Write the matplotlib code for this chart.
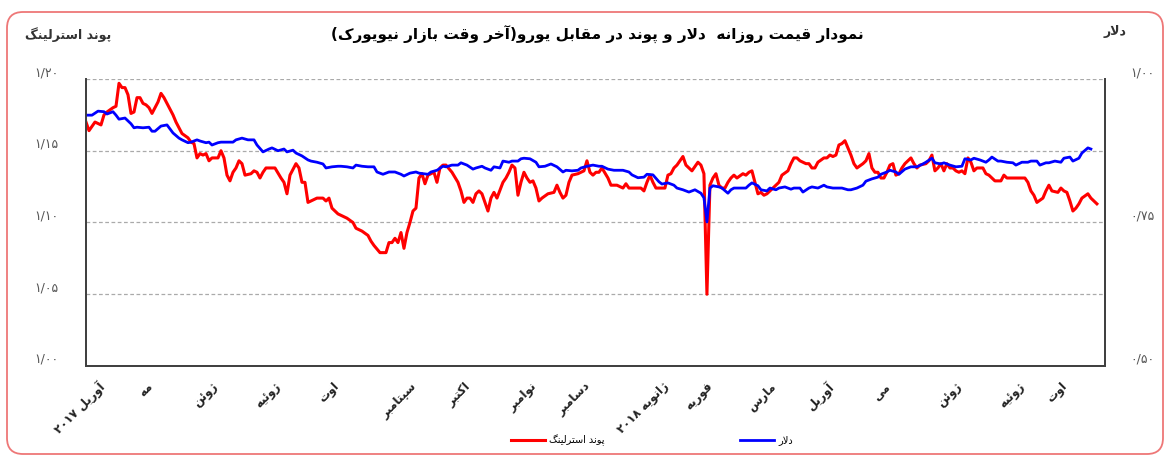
import matplotlib
matplotlib.use('Agg')
import matplotlib.pyplot as plt
from matplotlib.patches import FancyBboxPatch
from matplotlib.transforms import IdentityTransform

# ---- data (trading-day index) ----
pound_day = [0, 1, 3, 5, 6, 7, 9, 10, 11, 12, 13, 14, 15, 16, 17, 18, 19, 20, 21, 22, 24, 25, 26, 27, 29, 30,
             31, 32, 34, 35, 36, 37, 38, 39, 40, 41, 42, 44, 45, 46, 47, 48, 49, 50, 51, 52, 53, 55, 56, 57, 58,
             59, 60, 61, 63, 65, 66, 67, 68, 70, 71, 72, 73, 74, 75, 77, 79, 80, 81, 82, 84, 85, 87, 89, 90, 92,
             94, 95, 96, 98, 100, 101, 102, 103, 104, 105, 106, 107, 108, 109, 110, 111, 112, 113, 114, 116, 117,
             118, 119, 120, 122, 124, 125, 126, 127, 128, 129, 130, 131, 132, 134, 135, 136, 137, 139, 140, 141,
             142, 143, 144, 145, 146, 147, 148, 149, 150, 151, 152, 154, 156, 157, 158, 159, 160, 161, 162, 164,
             165, 166, 167, 168, 169, 170, 171, 172, 174, 175, 177, 179, 180, 181, 183, 185, 186, 187, 188, 189,
             190, 192, 193, 194, 195, 196, 197, 199, 200, 201, 202, 204, 205, 206, 207, 208, 209, 210, 211, 212,
             213, 214, 215, 216, 217, 219, 220, 221, 222, 223, 224, 225, 226, 227, 229, 230, 231, 232, 234, 235,
             236, 237, 238, 240, 241, 242, 243, 244, 246, 247, 248, 249, 250, 251, 252, 253, 254, 255, 256, 257,
             259, 260, 261, 262, 263, 264, 265, 266, 267, 268, 269, 270, 271, 272, 273, 274, 275, 276, 277, 278,
             280, 281, 282, 283, 284, 285, 286, 287, 288, 289, 290, 291, 292, 293, 294, 295, 296, 297, 299, 300,
             301, 303, 305, 306, 307, 309, 310, 311, 313, 314, 315, 316, 317, 319, 320, 321, 322, 324, 325, 326,
             327, 328, 329, 330, 331, 332, 334, 335, 337]
pound = [1.170, 1.164, 1.170, 1.168, 1.175, 1.177, 1.180, 1.181, 1.197, 1.194, 1.194, 1.189, 1.176, 1.177, 1.187,
         1.187, 1.183, 1.182, 1.180, 1.176, 1.184, 1.190, 1.187, 1.183, 1.175, 1.170, 1.166, 1.162, 1.159, 1.156,
         1.155, 1.145, 1.148, 1.147, 1.148, 1.143, 1.145, 1.145, 1.150, 1.145, 1.133, 1.129, 1.135, 1.138, 1.143,
         1.141, 1.133, 1.134, 1.136, 1.135, 1.131, 1.135, 1.138, 1.138, 1.138, 1.131, 1.128, 1.120, 1.133, 1.141,
         1.138, 1.128, 1.128, 1.114, 1.115, 1.117, 1.117, 1.115, 1.117, 1.110, 1.106, 1.105, 1.103, 1.100, 1.096,
         1.094, 1.091, 1.087, 1.084, 1.079, 1.079, 1.086, 1.086, 1.089, 1.086, 1.093, 1.082, 1.093, 1.100, 1.108,
         1.110, 1.131, 1.134, 1.127, 1.133, 1.135, 1.128, 1.138, 1.140, 1.140, 1.135, 1.128, 1.122, 1.114, 1.117,
         1.117, 1.114, 1.120, 1.122, 1.120, 1.108, 1.117, 1.121, 1.117, 1.128, 1.131, 1.135, 1.140, 1.138, 1.119,
         1.128, 1.135, 1.131, 1.128, 1.129, 1.124, 1.115, 1.117, 1.120, 1.121, 1.126, 1.121, 1.117, 1.119, 1.128,
         1.133, 1.134, 1.135, 1.136, 1.143, 1.135, 1.133, 1.135, 1.135, 1.138, 1.131, 1.126, 1.126, 1.124, 1.127,
         1.124, 1.124, 1.124, 1.122, 1.128, 1.133, 1.128, 1.124, 1.124, 1.124, 1.133, 1.134, 1.138, 1.140, 1.146,
         1.140, 1.138, 1.136, 1.142, 1.140, 1.134, 1.050, 1.126, 1.131, 1.134, 1.126, 1.124, 1.124, 1.128, 1.131,
         1.133, 1.131, 1.134, 1.133, 1.135, 1.136, 1.128, 1.120, 1.121, 1.119, 1.120, 1.124, 1.126, 1.128, 1.133,
         1.136, 1.141, 1.145, 1.145, 1.143, 1.141, 1.141, 1.138, 1.138, 1.142, 1.145, 1.145, 1.147, 1.146, 1.147,
         1.154, 1.155, 1.157, 1.152, 1.147, 1.141, 1.138, 1.141, 1.143, 1.148, 1.138, 1.135, 1.135, 1.131, 1.131,
         1.135, 1.140, 1.141, 1.133, 1.134, 1.138, 1.141, 1.143, 1.145, 1.141, 1.138, 1.140, 1.141, 1.143, 1.147,
         1.136, 1.138, 1.141, 1.136, 1.141, 1.138, 1.138, 1.136, 1.135, 1.136, 1.134, 1.145, 1.142, 1.136, 1.138,
         1.138, 1.134, 1.133, 1.129, 1.129, 1.133, 1.131, 1.131, 1.131, 1.131, 1.131, 1.128, 1.122, 1.119, 1.114,
         1.117, 1.122, 1.126, 1.122, 1.121, 1.124, 1.122, 1.121, 1.115, 1.108, 1.110, 1.113, 1.117, 1.120, 1.117,
         1.113]

dollar_day = [0, 2, 4, 6, 7, 9, 10, 11, 13, 15, 16, 17, 19, 21, 22, 23, 25, 27, 28, 29, 31, 32, 34, 35, 37, 38,
              40, 41, 42, 44, 45, 47, 49, 50, 52, 54, 56, 57, 59, 61, 62, 64, 66, 67, 69, 70, 72, 74, 75, 77, 79,
              80, 82, 84, 85, 87, 89, 90, 92, 94, 96, 97, 99, 101, 103, 105, 106, 108, 110, 111, 114, 115, 117,
              119, 120, 122, 124, 125, 127, 129, 130, 132, 133, 135, 136, 138, 139, 141, 142, 144, 145, 146, 148,
              150, 151, 153, 155, 157, 159, 160, 162, 164, 165, 167, 169, 171, 172, 174, 176, 177, 179, 181, 182,
              184, 186, 187, 189, 191, 192, 194, 196, 197, 199, 201, 203, 205, 206, 207, 208, 209, 211, 212, 214,
              215, 216, 218, 220, 221, 222, 224, 225, 227, 228, 230, 231, 233, 235, 236, 238, 239, 241, 242, 244,
              246, 247, 249, 251, 252, 254, 255, 257, 259, 260, 262, 264, 265, 267, 268, 270, 271, 273, 275, 277,
              279, 280, 282, 283, 285, 286, 288, 290, 292, 293, 295, 296, 298, 300, 301, 302, 304, 305, 307, 309,
              310, 312, 314, 315, 317, 318, 320, 321, 323, 325, 326, 328, 329, 331, 332, 334, 335]
dollar = [0.937, 0.937, 0.944, 0.943, 0.939, 0.943, 0.937, 0.930, 0.932, 0.922, 0.915, 0.916, 0.915, 0.916, 0.909,
          0.909, 0.918, 0.920, 0.913, 0.906, 0.897, 0.894, 0.889, 0.890, 0.894, 0.892, 0.889, 0.890, 0.885, 0.889,
          0.890, 0.890, 0.890, 0.894, 0.897, 0.894, 0.894, 0.885, 0.873, 0.878, 0.880, 0.875, 0.878, 0.873, 0.876,
          0.871, 0.866, 0.859, 0.857, 0.855, 0.852, 0.845, 0.847, 0.848, 0.848, 0.847, 0.845, 0.850, 0.848, 0.847,
          0.847, 0.838, 0.834, 0.838, 0.838, 0.834, 0.831, 0.836, 0.838, 0.836, 0.834, 0.838, 0.841, 0.848, 0.847,
          0.850, 0.850, 0.854, 0.850, 0.843, 0.845, 0.848, 0.845, 0.841, 0.847, 0.845, 0.857, 0.855, 0.857, 0.857,
          0.861, 0.862, 0.861, 0.855, 0.847, 0.848, 0.852, 0.847, 0.838, 0.841, 0.840, 0.841, 0.845, 0.848, 0.850,
          0.848, 0.848, 0.843, 0.841, 0.841, 0.841, 0.838, 0.833, 0.828, 0.829, 0.834, 0.833, 0.821, 0.817, 0.819,
          0.815, 0.810, 0.807, 0.803, 0.807, 0.801, 0.793, 0.751, 0.810, 0.814, 0.812, 0.810, 0.801, 0.807, 0.810,
          0.810, 0.810, 0.815, 0.819, 0.814, 0.807, 0.805, 0.810, 0.807, 0.810, 0.812, 0.808, 0.810, 0.810, 0.803,
          0.810, 0.812, 0.810, 0.815, 0.812, 0.810, 0.810, 0.810, 0.807, 0.807, 0.810, 0.815, 0.822, 0.826, 0.829,
          0.834, 0.838, 0.841, 0.838, 0.834, 0.843, 0.847, 0.847, 0.852, 0.855, 0.862, 0.854, 0.852, 0.854, 0.850,
          0.847, 0.848, 0.861, 0.859, 0.862, 0.859, 0.855, 0.859, 0.864, 0.857, 0.857, 0.855, 0.854, 0.850, 0.855,
          0.855, 0.857, 0.857, 0.850, 0.854, 0.854, 0.857, 0.855, 0.862, 0.864, 0.857, 0.862, 0.871, 0.880, 0.878]

month_day = [4, 20, 42, 63, 82, 108, 126, 148, 166, 192, 207, 228, 247, 266, 290, 311, 325]
month_names = ['آوریل ۲۰۱۷', 'مه', 'ژوئن', 'ژوئیه', 'اوت', 'سپتامبر', 'اکتبر', 'نوامبر', 'دسامبر',
               'ژانویه ۲۰۱۸', 'فوریه', 'مارس', 'آوریل', 'می', 'ژوئن', 'ژوئیه', 'اوت']

left_ticks = [1.00, 1.05, 1.10, 1.15, 1.20]
left_labels = ['۱/۰۰', '۱/۰۵', '۱/۱۰', '۱/۱۵', '۱/۲۰']
right_ticks = [0.50, 0.75, 1.00]
right_labels = ['۰/۵۰', '۰/۷۵', '۱/۰۰']

title = 'نمودار قیمت روزانه  دلار و پوند در مقابل یورو(آخر وقت بازار نیویورک)'
pound_name = 'پوند استرلینگ'
dollar_name = 'دلار'

# ---- minimal Persian shaping (matplotlib has no bidi / joining) ----
# letter: (isolated, final, initial, medial); right-joining letters have only two forms
FORMS = {
    'ا': ('\uFE8D', '\uFE8E'), 'آ': ('\uFE81', '\uFE82'), 'د': ('\uFEA9', '\uFEAA'),
    'ر': ('\uFEAD', '\uFEAE'), 'ز': ('\uFEAF', '\uFEB0'), 'ژ': ('\uFB8A', '\uFB8B'),
    'و': ('\uFEED', '\uFEEE'),
    'ب': ('\uFE8F', '\uFE90', '\uFE91', '\uFE92'), 'پ': ('\uFB56', '\uFB57', '\uFB58', '\uFB59'),
    'ت': ('\uFE95', '\uFE96', '\uFE97', '\uFE98'), 'خ': ('\uFEA5', '\uFEA6', '\uFEA7', '\uFEA8'),
    'س': ('\uFEB1', '\uFEB2', '\uFEB3', '\uFEB4'), 'ف': ('\uFED1', '\uFED2', '\uFED3', '\uFED4'),
    'ق': ('\uFED5', '\uFED6', '\uFED7', '\uFED8'), 'ک': ('\uFB8E', '\uFB8F', '\uFB90', '\uFB91'),
    'گ': ('\uFB92', '\uFB93', '\uFB94', '\uFB95'), 'ل': ('\uFEDD', '\uFEDE', '\uFEDF', '\uFEE0'),
    'م': ('\uFEE1', '\uFEE2', '\uFEE3', '\uFEE4'), 'ن': ('\uFEE5', '\uFEE6', '\uFEE7', '\uFEE8'),
    'ه': ('\uFEE9', '\uFEEA', '\uFEEB', '\uFEEC'), 'ی': ('\uFBFC', '\uFBFD', '\uFBFE', '\uFBFF'),
    'ئ': ('\uFE89', '\uFE8A', '\uFE8B', '\uFE8C'),
}
MIRROR = {'(': ')', ')': '('}


def fa(text):
    out = []
    i = 0
    while i < len(text):
        c = text[i]
        if c not in FORMS:
            out.append(c)
            i += 1
            continue
        prev = text[i - 1] if i > 0 else ''
        joins_prev = prev in FORMS and len(FORMS[prev]) == 4
        nxt = text[i + 1] if i + 1 < len(text) else ''
        if c == 'ل' and nxt == 'ا':
            out.append('\uFEFC' if joins_prev else '\uFEFB')
            i += 2
            continue
        joins_next = len(FORMS[c]) == 4 and nxt in FORMS
        f = FORMS[c]
        if joins_prev and joins_next:
            out.append(f[3])
        elif joins_prev:
            out.append(f[1])
        elif joins_next:
            out.append(f[2])
        else:
            out.append(f[0])
        i += 1
    # visual order: reverse, but keep digit runs left-to-right
    vis, run = [], []
    for ch in reversed(out):
        if ch.isdigit():
            run.append(ch)
        else:
            vis.extend(reversed(run))
            run = []
            vis.append(MIRROR.get(ch, ch))
    vis.extend(reversed(run))
    return ''.join(vis)


plt.rcParams['font.family'] = ['DejaVu Sans']

W, H = 1167, 457
fig = plt.figure(figsize=(W / 100, H / 100), dpi=100)
ax = fig.add_axes([86 / W, 1 - 366 / H, (1105 - 86) / W, (366 - 79) / H])
ax2 = ax.twinx()

l1, = ax.plot(pound_day, pound, color='#ff0000', lw=2.2, label=fa(pound_name))
l2, = ax2.plot(dollar_day, dollar, color='#0000ff', lw=2.0, label=fa(dollar_name))

ax.set_xlim(0, 339.7)
ax.set_ylim(1.0, 1.2)
ax2.set_ylim(0.5, 1.0)

ax.set_yticks(left_ticks)
ax.set_yticklabels(left_labels, color='#555555', fontsize=9)
ax2.set_yticks(right_ticks)
ax2.set_yticklabels(right_labels, color='#555555', fontsize=9)
ax.tick_params(axis='y', length=0, pad=20)
ax2.tick_params(axis='y', length=0, pad=18)
for t in ax.get_yticklabels() + ax2.get_yticklabels():
    t.set_va('bottom')

ax.set_xticks(month_day)
ax.set_xticklabels([fa(m) for m in month_names], rotation=45, ha='right',
                   rotation_mode='anchor', fontsize=8.5, fontweight='bold', color='#222222')
ax.tick_params(axis='x', length=0, pad=10)

ax.grid(axis='y', color='#aaaaaa', ls=(0, (3, 2)), lw=0.9)
ax.set_axisbelow(True)
for a in (ax, ax2):
    a.spines['top'].set_visible(False)
    for s in ('left', 'bottom', 'right'):
        a.spines[s].set_color('#404040')
        a.spines[s].set_linewidth(1.3)

fig.text(597 / W, 1 - 35 / H, fa(title), ha='center', va='center', fontsize=11, fontweight='bold')
fig.text(68 / W, 1 - 35 / H, fa(pound_name), ha='center', va='center', fontsize=9, fontweight='bold',
         color='#333333')
fig.text(1115 / W, 1 - 31 / H, fa(dollar_name), ha='center', va='center', fontsize=9, fontweight='bold',
         color='#333333')

fig.legend(handles=[l1, l2], loc='center', bbox_to_anchor=(652 / W, 1 - 440 / H), ncol=2,
           frameon=False, fontsize=7, handlelength=3.5, columnspacing=14, handletextpad=0.4)

border = FancyBboxPatch((7, 3), 1156, 442, boxstyle='round,pad=0,rounding_size=16',
                        transform=IdentityTransform(), fill=False, ec='#ee7777', lw=1.3)
fig.patches.append(border)

fig.savefig('out.png', dpi=100)
